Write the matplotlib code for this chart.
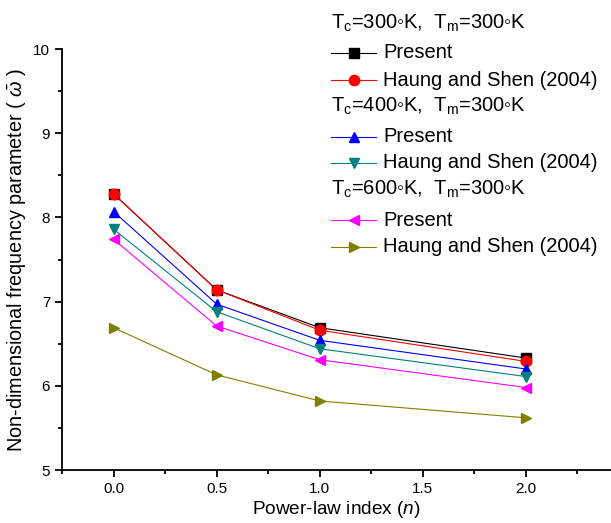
import matplotlib
matplotlib.use("Agg")
import matplotlib.pyplot as plt
from matplotlib.lines import Line2D
from matplotlib.ticker import MultipleLocator

plt.rcParams['font.family'] = ['Liberation Sans', 'DejaVu Sans']
plt.rcParams['mathtext.fontset'] = 'custom'
plt.rcParams['mathtext.rm'] = 'Liberation Sans'
plt.rcParams['mathtext.it'] = 'Liberation Sans:italic'

# power-law index n
n = [0.0, 0.5, 1.0, 2.0]

# non-dimensional frequency
tc300_present = [8.28, 7.14, 6.69, 6.33]
tc300_haung = [8.28, 7.14, 6.66, 6.29]
tc400_present = [8.07, 6.97, 6.54, 6.20]
tc400_haung = [7.86, 6.88, 6.44, 6.11]
tc600_present = [7.74, 6.71, 6.31, 5.98]
tc600_haung = [6.69, 6.13, 5.82, 5.62]

deg = "\u25e6"
headers = [r"T$_\mathrm{c}$=300" + deg + r"K,  T$_\mathrm{m}$=300" + deg + "K",
           r"T$_\mathrm{c}$=400" + deg + r"K,  T$_\mathrm{m}$=300" + deg + "K",
           r"T$_\mathrm{c}$=600" + deg + r"K,  T$_\mathrm{m}$=300" + deg + "K"]
labels = ["Present", "Haung and Shen (2004)"]

series = [tc300_present, tc300_haung, tc400_present,
          tc400_haung, tc600_present, tc600_haung]
colors = ["black", "red", "blue", "#008080", "magenta", "#808000"]
markers = ["s", "o", "^", "v", "<", ">"]

fig = plt.figure(figsize=(6.11, 5.23), dpi=100)
ax = fig.add_axes([0.1015, 0.1013, 0.8985, 0.805])

for ys, c, m in zip(series, colors, markers):
    ax.plot(n, ys, color=c, marker=m, ms=7.5, lw=0.8, mec=c, mfc=c)

ax.set_xlim(-0.25, 2.413)
ax.set_ylim(5, 10)
ax.xaxis.set_major_locator(MultipleLocator(0.5))
ax.xaxis.set_minor_locator(MultipleLocator(0.25))
ax.yaxis.set_major_locator(MultipleLocator(1))
ax.yaxis.set_minor_locator(MultipleLocator(0.5))
ax.xaxis.set_major_formatter(plt.FormatStrFormatter("%.1f"))
ax.spines['top'].set_visible(False)
ax.spines['right'].set_visible(False)
for s in ['left', 'bottom']:
    ax.spines[s].set_linewidth(1.3)
ax.tick_params(which='major', direction='out', length=5, width=1.3, labelsize=11)
ax.tick_params(which='minor', direction='out', length=3, width=1.3)

ax.set_xlabel("Power-law index ($\\it{n}$)", fontsize=13.7, labelpad=2)
ax.set_ylabel(r"Non-dimensional frequency parameter ( $\bar{\omega}$ )", fontsize=14.3)
ax.yaxis.set_label_coords(-0.06, 0.5)

# legend drawn by hand (Origin-style, with group headers)
W, H = 611, 523
x0, x1, xt = 331, 376, 383
row_y = [23, 53, 80, 106, 137, 163, 189, 220, 247]
k = 0
for g in range(3):
    fig.text(x0 / W, 1 - row_y[k] / H, headers[g], fontsize=14.5, va='center', ha='left')
    k += 1
    for j in range(2):
        i = g * 2 + j
        yy = 1 - row_y[k] / H
        fig.add_artist(Line2D([x0 / W, (x0 + x1) / 2 / W, x1 / W], [yy, yy, yy],
                              transform=fig.transFigure, color=colors[i], lw=0.8,
                              marker=markers[i], markevery=[1], ms=7.5,
                              mec=colors[i], mfc=colors[i]))
        fig.text(xt / W, yy, labels[j], fontsize=14.5, va='center', ha='left')
        k += 1

fig.savefig("out.png", dpi=100)
